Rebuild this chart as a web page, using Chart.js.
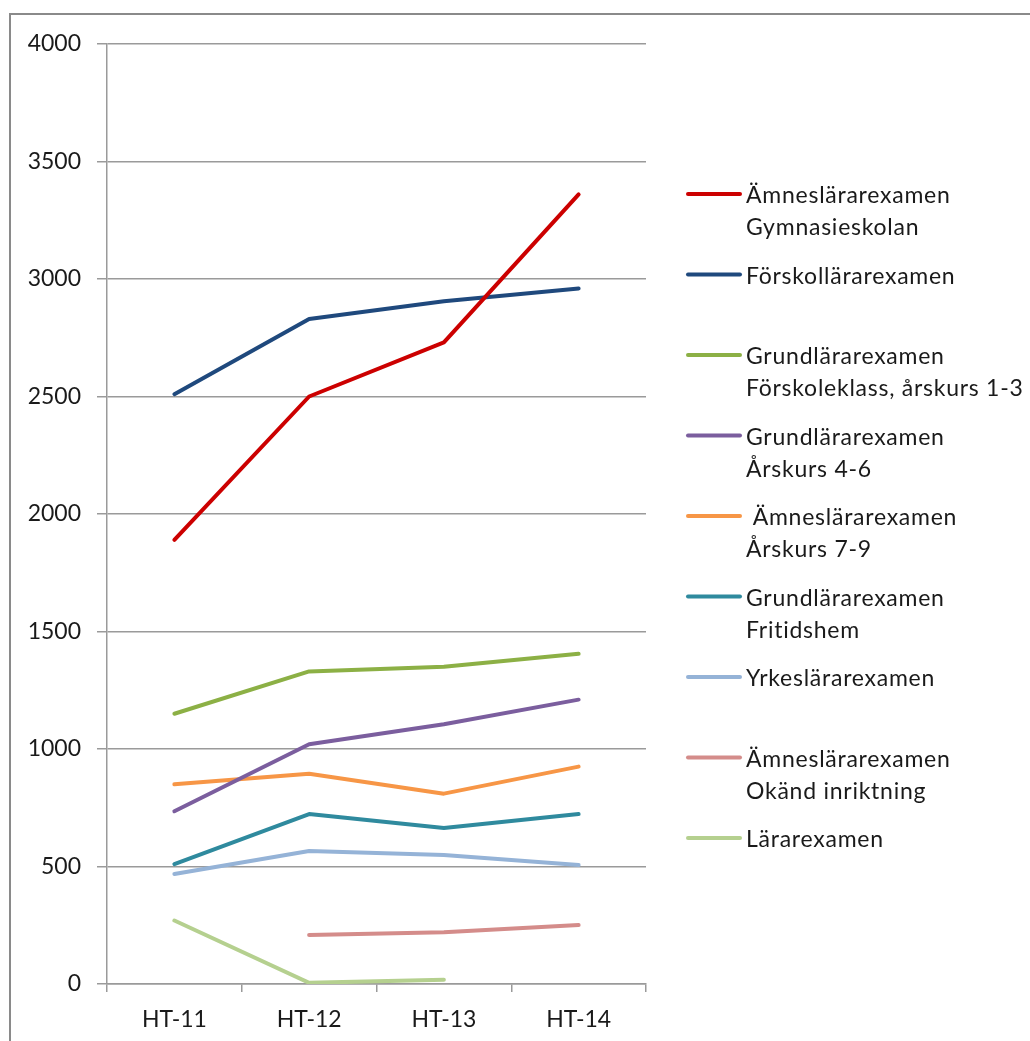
<!DOCTYPE html>
<html>
<head>
<meta charset="utf-8">
<script src="https://cdn.jsdelivr.net/npm/chart.js@4"></script>
<style>
html,body{margin:0;padding:0;background:#fff;}
#wrap{width:1030px;height:1041px;position:relative;}
</style>
</head>
<body>
<div id="wrap"><canvas id="c" width="1030" height="1041"></canvas></div>
<script>
const categories = ['HT-11', 'HT-12', 'HT-13', 'HT-14'];
const yTicks = [0, 500, 1000, 1500, 2000, 2500, 3000, 3500, 4000];

const amnesGymnasie   = [1890, 2500, 2730, 3360];
const forskollarare   = [2510, 2830, 2905, 2960];
const grundF3         = [1150, 1330, 1350, 1405];
const grund46         = [735, 1020, 1105, 1210];
const amnes79         = [850, 895, 810, 925];
const grundFritids    = [510, 723, 664, 723];
const yrkeslarare     = [468, 566, 549, 506];
const amnesOkand      = [null, 209, 220, 251];
const lararexamen     = [270, 5, 18, null];

const seriesLabels = [
  ['Ämneslärarexamen', 'Gymnasieskolan'],
  ['Förskollärarexamen'],
  ['Grundlärarexamen', 'Förskoleklass, årskurs 1-3'],
  ['Grundlärarexamen', 'Årskurs 4-6'],
  [' Ämneslärarexamen', 'Årskurs 7-9'],
  ['Grundlärarexamen', 'Fritidshem'],
  ['Yrkeslärarexamen'],
  ['Ämneslärarexamen', 'Okänd inriktning'],
  ['Lärarexamen']
];
const seriesData = [amnesGymnasie, forskollarare, grundF3, grund46, amnes79, grundFritids, yrkeslarare, amnesOkand, lararexamen];
const seriesColors = ['#CC0000', '#1F497D', '#8CB045', '#7B5E9E', '#F79646', '#2F8A9E', '#95B3D7', '#D48C8A', '#B5D08F'];

const FONT = 'Lato, "Liberation Sans", sans-serif';

const frame = {
  id: 'frame',
  beforeDraw(chart) {
    const ctx = chart.ctx;
    ctx.save();
    ctx.fillStyle = '#fff';
    ctx.fillRect(0, 0, chart.width, chart.height);
    ctx.strokeStyle = '#8a8a8a';
    ctx.lineWidth = 2;
    ctx.beginPath();
    ctx.moveTo(10, chart.height);
    ctx.lineTo(10, 14);
    ctx.lineTo(chart.width, 14);
    ctx.stroke();
    ctx.restore();
  }
};

const customLegend = {
  id: 'customLegend',
  afterDraw(chart) {
    const ctx = chart.ctx;
    ctx.save();
    ctx.font = '23px ' + FONT;
    ctx.letterSpacing = '0.75px';
    ctx.textBaseline = 'middle';
    ctx.fillStyle = '#1a1a1a';
    chart.data.datasets.forEach((ds, i) => {
      const y = 194 + i * 80.5;
      ctx.strokeStyle = ds.borderColor;
      ctx.lineWidth = 4;
      ctx.lineCap = 'round';
      ctx.beginPath();
      ctx.moveTo(688, y);
      ctx.lineTo(740, y);
      ctx.stroke();
      const lines = seriesLabels[i];
      lines.forEach((t, k) => {
        ctx.fillText(t, 746, y + 2 + k * 32);
      });
    });
    ctx.restore();
  }
};

new Chart(document.getElementById('c'), {
  type: 'line',
  data: {
    labels: categories,
    datasets: seriesData.map((d, i) => ({
      label: seriesLabels[i].join(' '),
      data: d,
      borderColor: seriesColors[i],
      backgroundColor: seriesColors[i],
      borderWidth: 4,
      borderCapStyle: 'round',
      borderJoinStyle: 'round',
      pointRadius: 0,
      pointHoverRadius: 0,
      tension: 0,
      spanGaps: false
    }))
  },
  options: {
    responsive: false,
    animation: false,
    events: [],
    layout: { padding: { left: 0, top: 44, right: 384, bottom: 0 } },
    plugins: { legend: { display: false }, tooltip: { enabled: false } },
    scales: {
      x: {
        type: 'category',
        offset: true,
        grid: { display: true, drawOnChartArea: false, drawTicks: true, tickLength: 8, offset: true, color: '#9a9a9a', lineWidth: 1.5 },
        border: { display: true, color: '#9a9a9a', width: 1.5 },
        ticks: { font: { family: FONT, size: 23 }, color: '#1a1a1a', padding: 14, maxRotation: 0 },
        afterFit(scale) { scale.height = 57; }
      },
      y: {
        min: 0, max: 4000,
        afterBuildTicks(scale) { scale.ticks = yTicks.map(v => ({ value: v })); },
        grid: { drawTicks: true, tickLength: 10, color: '#9a9a9a', lineWidth: 1.5 },
        border: { display: true, color: '#9a9a9a', width: 1.5 },
        ticks: { font: { family: FONT, size: 23 }, color: '#1a1a1a', padding: 16, callback: (v) => String(v) },
        afterFit(scale) { scale.width = 107; }
      }
    }
  },
  plugins: [frame, customLegend]
});
</script>
</body>
</html>
